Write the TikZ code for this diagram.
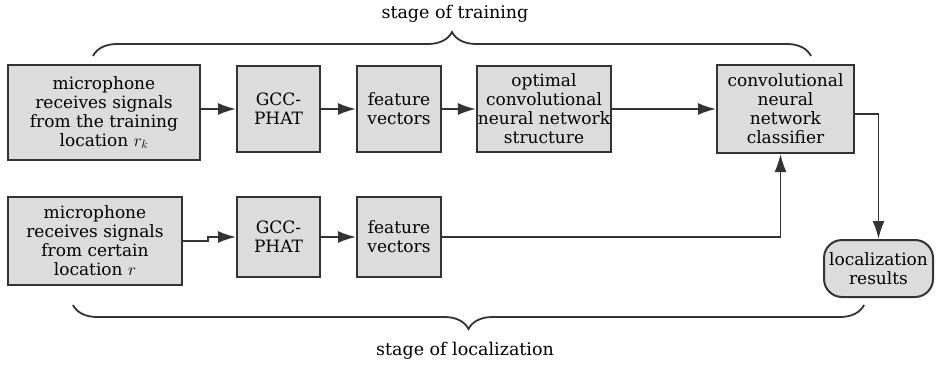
\documentclass[tikz,border=0pt]{standalone}
\usepackage{fontspec}
\setmainfont{DejaVu Serif}
\usepackage{xcolor}
\definecolor{boxfill}{HTML}{DCDCDC}
\definecolor{boxline}{HTML}{333333}
\usepackage{tikz}
\usetikzlibrary{positioning,arrows.meta,decorations.pathreplacing,calc}

\begin{document}
\begin{tikzpicture}[x=1pt, y=-1pt,
  stagebox/.style={draw=boxline, fill=boxfill, line width=2pt, align=center,
    inner sep=1pt, font=\fontsize{17}{19}\selectfont},
  flow/.style={draw=boxline, line width=1.8pt, -{Latex[length=18pt,width=12pt]}},
  stagebrace/.style={draw=boxline, line width=1.8pt, decorate,
    decoration={brace, amplitude=24pt}},
  stagelabel/.style={font=\fontsize{17.5}{20}\selectfont}]
  \useasboundingbox (0,0) rectangle (936,364);
  \node[stagebox, minimum width=192pt, minimum height=95pt] (mic1) at (104,112.5)
       {microphone\\receives signals\\from the training\\location $r_k$};
  \node[stagebox, minimum width=83pt, minimum height=86pt] (gcc1) at (278.5,109) {GCC-\\PHAT};
  \node[stagebox, minimum width=84pt, minimum height=86pt] (feat1) at (399,109) {feature\\vectors};
  \node[stagebox, minimum width=132pt, minimum height=86pt] (opt) at (544,109)
       {optimal\\convolutional\\neural network\\structure};
  \node[stagebox, minimum width=137pt, minimum height=88pt] (cls) at (785.5,109)
       {convolutional\\neural\\network\\classifier};
  \node[stagebox, minimum width=174pt, minimum height=88pt] (mic2) at (95,241)
       {microphone\\receives signals\\from certain\\location $r$};
  \node[stagebox, minimum width=83pt, minimum height=80pt] (gcc2) at (278.5,237) {GCC-\\PHAT};
  \node[stagebox, minimum width=84pt, minimum height=80pt] (feat2) at (399,237) {feature\\vectors};
  \node[stagebox, rounded corners=18pt, minimum width=109pt, minimum height=57pt] (res)
       at (878.5,268.5) {localization\\results};
  \draw[flow] (mic1.east |- gcc1.west) -- (gcc1.west);
  \draw[flow] (gcc1) -- (feat1);
  \draw[flow] (feat1) -- (opt);
  \draw[flow] (opt) -- (cls);
  \draw[flow] (mic2.east) -- ++(25,0) |- (gcc2.west);
  \draw[flow] (gcc2) -- (feat2);
  \draw[flow] (feat2.east) -| ([xshift=-5pt]cls.south);
  \draw[flow] ([yshift=-5pt]cls.east) -| (res.north);
  \draw[stagebrace] (93,56) -- (811,56);
  \draw[stagebrace] (864,305) -- (73,305);
  \node[stagelabel] (trainlbl) at (455,14) {stage of training};
  \node[stagelabel] (loclbl) at (465,351) {stage of localization};
\end{tikzpicture}
\end{document}
